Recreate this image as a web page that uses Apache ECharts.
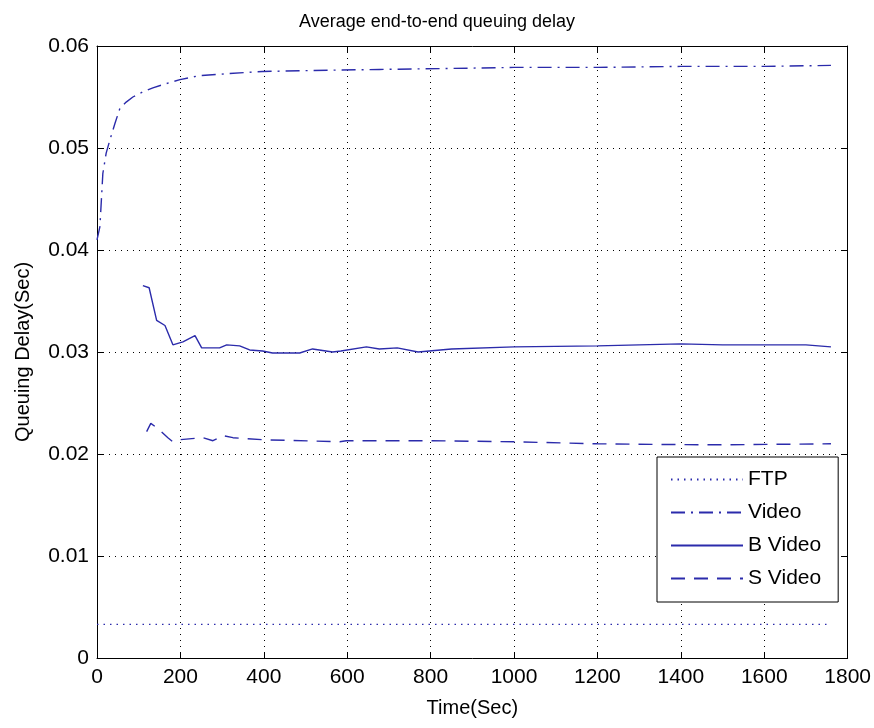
<!DOCTYPE html>
<html>
<head>
<meta charset="utf-8">
<script src="https://cdn.jsdelivr.net/npm/echarts@6/dist/echarts.min.js"></script>
<style>
  html, body { margin: 0; padding: 0; background: #fff; }
  #chart { width: 874px; height: 728px; }
</style>
</head>
<body>
<div id="chart"></div>
<script>
// Average end-to-end queuing delay per traffic class (seconds vs. simulation time)
const ftpTime   = [0, 1760];
const ftpDelay  = [0.0033, 0.0033];

const videoTime  = [0, 7, 14, 22, 31, 43, 55, 70, 86, 110, 134, 165, 199, 246, 318, 397, 517, 677, 850, 1000, 1200, 1400, 1600, 1760];
const videoDelay = [0.0410, 0.0423, 0.0475, 0.0495, 0.0508, 0.0524, 0.0539, 0.0545, 0.0550, 0.0555, 0.0559, 0.0563, 0.0567, 0.0571, 0.0573, 0.0575, 0.0576, 0.0577, 0.0578, 0.0579, 0.0579, 0.0580, 0.0580, 0.0581];

const bTime  = [110, 125, 143, 163, 182, 206, 235, 251, 294, 311, 342, 366, 397, 421, 486, 517, 565, 585, 646, 677, 720, 770, 850, 1000, 1200, 1400, 1500, 1700, 1760];
const bDelay = [0.0365, 0.0363, 0.0331, 0.0326, 0.0307, 0.0310, 0.0316, 0.0304, 0.0304, 0.0307, 0.0306, 0.0302, 0.0301, 0.0299, 0.0299, 0.0303, 0.0300, 0.0301, 0.0305, 0.0303, 0.0304, 0.0300, 0.0303, 0.0305, 0.0306, 0.0308, 0.0307, 0.0307, 0.0305];

const sTime  = [119, 129, 146, 170, 182, 199, 254, 278, 302, 326, 397, 582, 598, 800, 1000, 1200, 1450, 1500, 1760];
const sDelay = [0.0222, 0.0230, 0.0225, 0.0216, 0.0212, 0.0214, 0.0216, 0.0213, 0.0218, 0.0216, 0.0214, 0.0212, 0.0213, 0.0213, 0.0212, 0.0210, 0.0209, 0.0209, 0.0210];

const xTicks = [0, 200, 400, 600, 800, 1000, 1200, 1400, 1600, 1800];
const yTicks = [0, 0.01, 0.02, 0.03, 0.04, 0.05, 0.06];

const pairs = (t, v) => t.map((x, i) => [x, v[i]]);

const lineColor = '#2b2bab';
const font = 'Liberation Sans, Arial, sans-serif';

const chart = echarts.init(document.getElementById('chart'));

const baseX = {
  type: 'value', min: 0, max: 1800, interval: 200,
  axisLine: { show: true, onZero: false, lineStyle: { color: '#000', width: 1 } },
  axisTick: { show: true, inside: true, length: 6, lineStyle: { color: '#000' } }
};
const baseY = {
  type: 'value', min: 0, max: 0.06, interval: 0.01,
  axisLine: { show: true, onZero: false, lineStyle: { color: '#000', width: 1 } },
  axisTick: { show: true, inside: true, length: 6, lineStyle: { color: '#000' } }
};

chart.setOption({
  backgroundColor: '#fff',
  animation: false,
  title: {
    text: 'Average end-to-end queuing delay',
    left: 'center', top: 8,
    textStyle: { fontFamily: font, fontSize: 18, fontWeight: 'normal', color: '#000' }
  },
  grid: { left: 97, right: 25, top: 46, bottom: 70 },
  xAxis: [
    Object.assign({}, baseX, {
      position: 'bottom',
      name: 'Time(Sec)', nameLocation: 'middle', nameGap: 40,
      nameTextStyle: { fontFamily: font, fontSize: 20, color: '#000' },
      axisLabel: { fontFamily: font, fontSize: 21, color: '#000', margin: 9,
        formatter: v => xTicks.includes(v) ? String(v) : '' },
      splitLine: { show: true, lineStyle: { color: '#000', type: [1, 5], width: 1 } }
    }),
    Object.assign({}, baseX, { position: 'top', axisLabel: { show: false }, splitLine: { show: false } })
  ],
  yAxis: [
    Object.assign({}, baseY, {
      position: 'left',
      name: 'Queuing Delay(Sec)', nameLocation: 'middle', nameGap: 64,
      nameTextStyle: { fontFamily: font, fontSize: 20, color: '#000' },
      axisLabel: { fontFamily: font, fontSize: 21, color: '#000', margin: 8,
        formatter: v => {
          const t = yTicks.find(k => Math.abs(k - v) < 1e-9);
          return t === undefined ? '' : (t === 0 ? '0' : t.toFixed(2));
        } },
      splitLine: { show: true, lineStyle: { color: '#000', type: [1, 5], width: 1 } }
    }),
    Object.assign({}, baseY, { position: 'right', axisLabel: { show: false }, splitLine: { show: false } })
  ],
  legend: {
    orient: 'vertical',
    left: 657, top: 457,
    padding: [12, 17, 13, 13],
    itemGap: 12,
    itemWidth: 72, itemHeight: 21,
    backgroundColor: '#fff',
    borderColor: '#000', borderWidth: 1, borderRadius: 0,
    itemStyle: { opacity: 0 },
    textStyle: { fontFamily: font, fontSize: 21, color: '#000' },
    data: ['FTP', 'Video', 'B Video', 'S Video']
  },
  series: [
    {
      name: 'FTP', type: 'line', showSymbol: false, symbol: 'none',
      data: pairs(ftpTime, ftpDelay),
      lineStyle: { color: lineColor, width: 1.2, type: [1.5, 5] },
      itemStyle: { color: lineColor }
    },
    {
      name: 'Video', type: 'line', showSymbol: false, symbol: 'none',
      data: pairs(videoTime, videoDelay),
      lineStyle: { color: lineColor, width: 1.4, type: [14, 6, 2, 6] },
      itemStyle: { color: lineColor }
    },
    {
      name: 'B Video', type: 'line', showSymbol: false, symbol: 'none',
      data: pairs(bTime, bDelay),
      lineStyle: { color: lineColor, width: 1.4, type: 'solid' },
      itemStyle: { color: lineColor }
    },
    {
      name: 'S Video', type: 'line', showSymbol: false, symbol: 'none',
      data: pairs(sTime, sDelay),
      lineStyle: { color: lineColor, width: 1.4, type: [14, 9] },
      itemStyle: { color: lineColor }
    }
  ]
});
</script>
</body>
</html>
